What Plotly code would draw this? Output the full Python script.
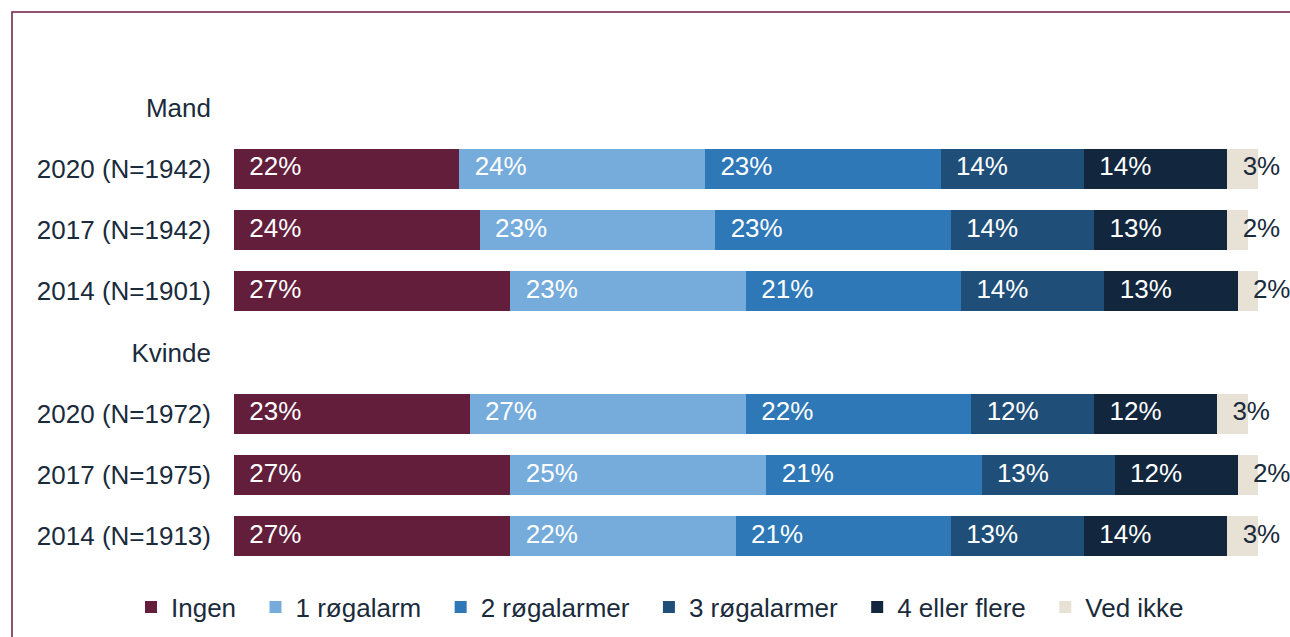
import plotly.graph_objects as go

categories = [
    "Mand", "2020 (N=1942)", "2017 (N=1942)", "2014 (N=1901)",
    "Kvinde", "2020 (N=1972)", "2017 (N=1975)", "2014 (N=1913)",
]
series_names = ["Ingen", "1 røgalarm", "2 røgalarmer", "3 røgalarmer", "4 eller flere", "Ved ikke"]
ingen = [None, 22, 24, 27, None, 23, 27, 27]
en_alarm = [None, 24, 23, 23, None, 27, 25, 22]
to_alarmer = [None, 23, 23, 21, None, 22, 21, 21]
tre_alarmer = [None, 14, 14, 14, None, 12, 13, 13]
fire_flere = [None, 14, 13, 13, None, 12, 12, 14]
ved_ikke = [None, 3, 2, 2, None, 3, 2, 3]

colors = ["#621e3b", "#76acdb", "#2e78b8", "#1f4e78", "#12273e", "#e8e1d6"]
text_colors = ["white", "white", "white", "white", "white", "#1a2b3c"]
dark = "#1a2b3c"
font = "Liberation Sans, Arial, sans-serif"

all_series = [ingen, en_alarm, to_alarmer, tre_alarmer, fire_flere, ved_ikke]
pad = "\u00a0\u00a0"  # widen legend entries a bit

fig = go.Figure()
base = [0 if v is not None else None for v in ingen]
for name, vals, col, tcol in zip(series_names, all_series, colors, text_colors):
    fig.add_trace(go.Bar(
        y=categories, x=vals, name=name + pad, orientation="h",
        marker=dict(color=col, line=dict(width=0)), width=0.65,
        hoverinfo="skip",
    ))
    # labels start a little inside each segment, like the original
    fig.add_trace(go.Scatter(
        y=categories,
        x=[b + 1.5 if b is not None else None for b in base],
        text=[f"{v}%" if v is not None else "" for v in vals],
        mode="text", textposition="middle right", cliponaxis=False,
        textfont=dict(color=tcol, size=26, family=font),
        showlegend=False, hoverinfo="skip",
    ))
    base = [b + v if b is not None else None for b, v in zip(base, vals)]

fig.update_layout(
    barmode="stack",
    width=1290, height=637,
    margin=dict(l=234, r=32, t=77, b=70, autoexpand=False),
    paper_bgcolor="white", plot_bgcolor="white",
    font=dict(family=font, size=26, color=dark),
    xaxis=dict(range=[0, 100], visible=False, fixedrange=True),
    yaxis=dict(
        categoryorder="array", categoryarray=categories, autorange="reversed",
        showgrid=False, showline=False, ticks="", ticklabelstandoff=22,
        tickfont=dict(size=26, color=dark),
    ),
    legend=dict(
        orientation="h", x=-0.1006, xanchor="left", y=-0.082, yanchor="middle",
        font=dict(size=26, color=dark), traceorder="normal",
        itemwidth=30, bgcolor="rgba(0,0,0,0)",
    ),
    shapes=[dict(
        type="rect", xref="paper", yref="paper",
        x0=-0.2168, x1=1.05, y0=-0.15, y1=1.1327,
        line=dict(color="#6b1e3d", width=1.5),
    )],
    showlegend=True,
)

fig.write_html(
    "out.html",
    config={"displayModeBar": False},
    post_script="document.body.style.margin='0';",
)
